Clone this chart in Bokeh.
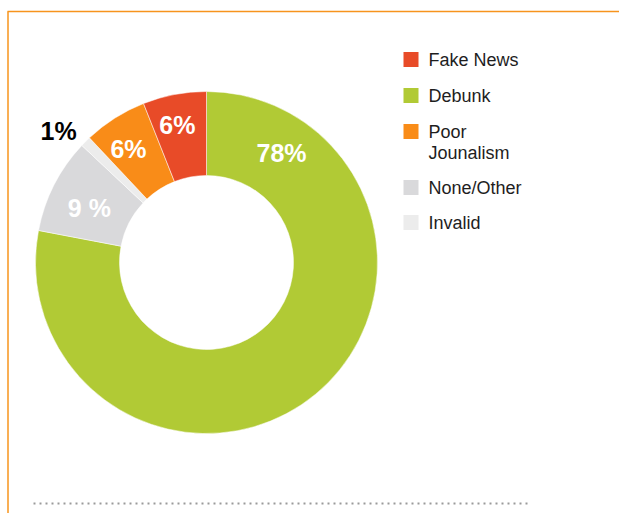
import numpy as np
from bokeh.plotting import figure
from bokeh.models import Range1d, ColumnDataSource
from bokeh.core.properties import value
from bokeh.embed import file_html
from bokeh.resources import INLINE

# Data (clockwise from 12 o'clock)
categories = ["Debunk", "None/Other", "Invalid", "Poor Jounalism", "Fake News"]
shares = [78, 9, 1, 6, 6]
labels = ["78%", "9 %", "1%", "6%", "6%"]
colors = ["#B1CA35", "#D9D9DB", "#ECECEC", "#F98C18", "#E84B28"]
label_colors = ["white", "white", "black", "white", "white"]

legend_names = ["Fake News", "Debunk", "Poor\nJounalism", "None/Other", "Invalid"]
legend_colors = ["#E84B28", "#B1CA35", "#F98C18", "#D9D9DB", "#ECECEC"]

W, H = 619, 513
p = figure(width=W, height=H, output_backend="svg", toolbar_location=None,
           x_range=Range1d(0, W), y_range=Range1d(0, H), min_border=0)
p.axis.visible = False
p.grid.visible = False
p.outline_line_color = None
p.background_fill_color = "white"
p.border_fill_color = "white"

cx, cy = 206, H - 262
r_out, r_in = 171, 87

fr = np.array(shares, dtype=float) / sum(shares)
cum = np.concatenate([[0], np.cumsum(fr)])
start = np.pi / 2 - cum[:-1] * 2 * np.pi
end = np.pi / 2 - cum[1:] * 2 * np.pi

src = ColumnDataSource(dict(start=start, end=end, color=colors))
p.annular_wedge(x=cx, y=cy, inner_radius=r_in, outer_radius=r_out,
                start_angle="start", end_angle="end", direction="clock",
                fill_color="color", line_color="white", line_width=0.5, source=src)

# label positions
mid = (cum[:-1] + cum[1:]) / 2
ang = np.pi / 2 - mid * 2 * np.pi + np.radians([0, 2.2, 3.3, 2.0, 1.1])
rad = np.array([134, 129, 198, 138, 141], dtype=float)
lx = cx + rad * np.cos(ang)
ly = cy + rad * np.sin(ang)
lx[0], ly[0] = 281, H - 152
lsrc = ColumnDataSource(dict(x=lx, y=ly, t=labels, c=label_colors))
p.text(x="x", y="y", text="t", text_color="c", source=lsrc,
       text_font=value("Liberation Sans"), text_font_style="bold",
       text_font_size="25px", text_align="center", text_baseline="middle")

# legend
ly0 = [59, 95, 131, 187, 222]
for name, col, yy in zip(legend_names, legend_colors, ly0):
    p.rect(x=410.5, y=H - yy, width=15, height=15, fill_color=col, line_color=None)
    for k, part in enumerate(name.split("\n")):
        p.text(x=[428], y=[H - yy - 21 * k], text=[part],
               text_font=value("Liberation Sans"), text_font_size="18px",
               text_color="#1e1e1e", text_baseline="middle")

# frame lines
p.line(x=[7, W], y=[H - 11, H - 11], line_color="#F7941D", line_width=1.5)
p.line(x=[7.5, 7.5], y=[H - 11, 0], line_color="#F7941D", line_width=1.5)
p.line(x=[33, 530], y=[H - 503, H - 503], line_color="#9A9A9A", line_width=2,
       line_dash="2 4")

open("out.html", "w").write(file_html(p, INLINE))
